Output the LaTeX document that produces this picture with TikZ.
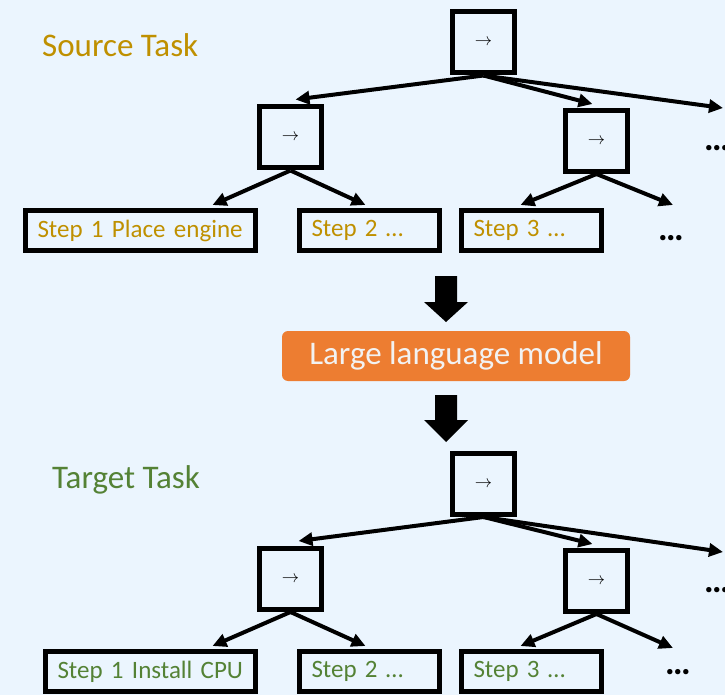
\documentclass[tikz,border=0pt]{standalone}
\usepackage{fontspec}
\setmainfont{Carlito}
\usetikzlibrary{arrows.meta,calc}
\definecolor{bg}{HTML}{EBF5FE}
\definecolor{gold}{HTML}{BF9000}
\definecolor{leafgreen}{HTML}{548235}
\definecolor{llmorange}{HTML}{ED7D31}
\begin{document}
\begin{tikzpicture}[x=1pt,y=-1pt,
  opbox/.style={draw=black, line width=5pt, minimum width=62pt, minimum height=61pt, inner sep=0pt, font=\fontsize{18}{20}\selectfont},
  leafbox/.style={draw=black, line width=5pt, minimum height=40pt, inner xsep=12pt, inner ysep=0pt, align=left, font=\fontsize{25}{28}\selectfont},
  title/.style={anchor=west, inner sep=0pt, font=\fontsize{33}{36}\selectfont},
  conn/.style={line width=4pt, -{Triangle[length=14pt,width=13pt]}},
  more/.style={inner sep=0pt, font=\fontsize{36}{40}\selectfont\bfseries},
  blockarrow/.style={fill=black}
]
\fill[bg] (0,0) rectangle (725,695);
\useasboundingbox (0,0) rectangle (725,695);

% ---------- Source tree ----------
\node[title, text=gold] (stitle) at (42,45) {Source Task};
\node[opbox] (sroot) at (483.5,42.5) {$\rightarrow$};
\node[opbox] (slc) at (290.5,137.5) {$\rightarrow$};
\node[opbox] (src) at (596.5,141) {$\rightarrow$};
\node[leafbox, text=gold, text width=206pt] (ss1) at (140.5,230.5) {Step 1 Place engine};
\node[leafbox, text=gold, text width=116pt] (ss2) at (369.5,230.5) {Step 2 …};
\node[leafbox, text=gold, text width=116pt] (ss3) at (531.5,230.5) {Step 3 …};
\node[more] (sdots) at (671,238) {…};
\node[more, anchor=west] (sdotsr) at (704,148) {…};
\coordinate (soff) at (723,108);
\coordinate (sfree) at (673,205);

\draw[conn] (sroot.south) -- ($(slc.north)+(5,-5)$);
\draw[conn] (sroot.south) -- ($(src.north)+(-4,-4)$);
\draw[conn] (sroot.south) -- (soff);
\draw[conn] (slc.south) -- ($(ss1.north)+(72,-3)$);
\draw[conn] (slc.south) -- ($(ss2.north)+(-4,-3)$);
\draw[conn] (src.south) -- ($(ss3.north)+(-11,-3)$);
\draw[conn] (src.south) -- (sfree);

% ---------- LLM ----------
\node[fill=llmorange, rounded corners=6pt, minimum width=348pt, minimum height=50pt, inner sep=0pt,
      text=white!95!black, font=\fontsize{33}{36}\selectfont] (llm) at (456,356) {Large language model};

\fill[blockarrow] (435,276) -- (457,276) -- (457,302) -- (468,302) -- (446,322) -- (424,302) -- (435,302) -- cycle;
\fill[blockarrow] (435,395) -- (457,395) -- (457,420) -- (468,420) -- (446,442) -- (424,420) -- (435,420) -- cycle;

% ---------- Target tree ----------
\node[title, text=leafgreen] (ttitle) at (52,480) {Target Task};
\node[opbox] (troot) at (483.5,484) {$\rightarrow$};
\node[opbox] (tlc) at (290.5,579) {$\rightarrow$};
\node[opbox] (trc) at (596.5,581) {$\rightarrow$};
\node[leafbox, text=leafgreen, text width=186pt] (ts1) at (150.5,671.5) {Step 1 Install CPU};
\node[leafbox, text=leafgreen, text width=116pt] (ts2) at (369.5,671.5) {Step 2 …};
\node[leafbox, text=leafgreen, text width=116pt] (ts3) at (531.5,671.5) {Step 3 …};
\node[more] (tdots) at (678,672) {…};
\node[more, anchor=west] (tdotsr) at (704,590) {…};
\coordinate (toff) at (723,552);
\coordinate (tfree) at (673,648);

\draw[conn] (troot.south) -- ($(tlc.north)+(8,-5)$);
\draw[conn] (troot.south) -- ($(trc.north)+(-4,-4)$);
\draw[conn] (troot.south) -- (toff);
\draw[conn] (tlc.south) -- ($(ts1.north)+(62,-3)$);
\draw[conn] (tlc.south) -- ($(ts2.north)+(-4,-3)$);
\draw[conn] (trc.south) -- ($(ts3.north)+(-11,-3)$);
\draw[conn] (trc.south) -- (tfree);
\end{tikzpicture}
\end{document}
